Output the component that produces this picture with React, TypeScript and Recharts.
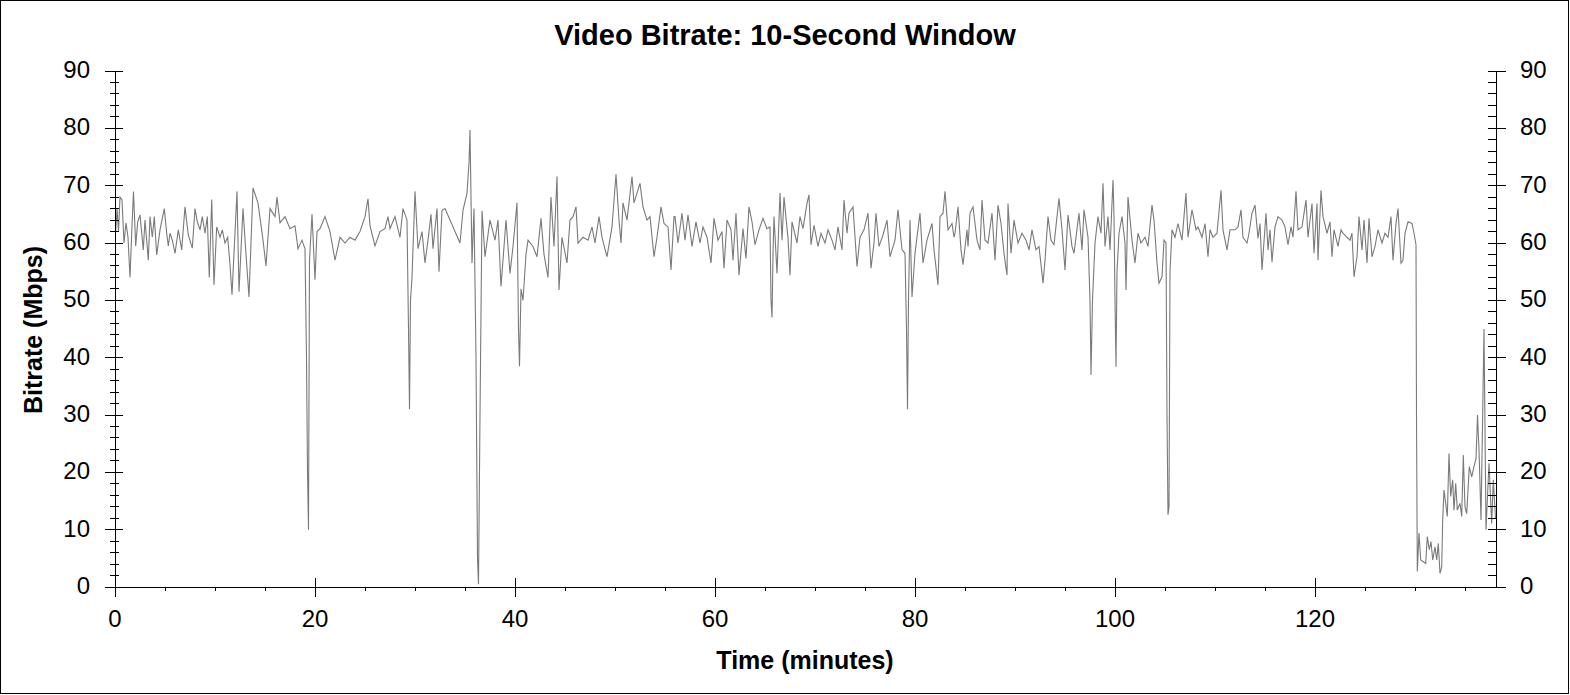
import { LineChart, Line, XAxis, YAxis, Label } from 'recharts';

const FONT = '"Liberation Sans", Arial, Helvetica, sans-serif';

// tick values (minor + major), majors every 20 min / 10 Mbps
const xTicks = [0, 5, 10, 15, 20, 25, 30, 35, 40, 45, 50, 55, 60, 65, 70, 75, 80, 85, 90, 95, 100, 105, 110, 115, 120, 125, 130, 135];
const yTicks = [0, 2, 4, 6, 8, 10, 12, 14, 16, 18, 20, 22, 24, 26, 28, 30, 32, 34, 36, 38, 40, 42, 44, 46, 48, 50, 52, 54, 56, 58, 60, 62, 64, 66, 68, 70, 72, 74, 76, 78, 80, 82, 84, 86, 88, 90];

// [minutes, Mbps]
const seg0to28: [number, number][] = [
  [0, 60], [0.2, 66], [0.35, 62], [0.5, 68], [0.7, 67.5], [0.9, 60], [1.1, 63.5], [1.3, 61], [1.5, 54], [1.7, 63],
  [1.85, 69], [2.07, 59.5], [2.27, 63.7], [2.5, 64.9], [2.83, 58.8], [3, 64], [3.33, 57], [3.5, 64.6], [3.73, 61], [3.93, 64.6],
  [4.17, 57.9], [4.5, 62.3], [4.93, 66], [5.17, 61.7], [5.33, 59.5], [5.5, 61.7], [5.73, 60.5], [6, 58.2], [6.33, 62.3], [6.67, 58.8],
  [7, 66.3], [7.33, 61.4], [7.73, 59.1], [8, 66], [8.23, 63.7], [8.5, 62.3], [8.73, 64.6], [9, 61.7], [9.23, 64.6], [9.43, 54],
  [9.67, 67.6], [9.9, 52.7], [10.17, 62.8], [10.5, 61], [10.73, 62.3], [11, 60], [11.27, 61], [11.5, 56.2], [11.7, 51], [12.2, 69],
  [12.4, 51.5], [12.8, 66], [13.1, 58], [13.4, 50.6], [13.8, 69.6], [14.3, 67], [14.8, 60.5], [15.1, 56], [15.5, 66], [16, 64.6],
  [16.2, 68], [16.5, 63.5], [17, 64.6], [17.5, 62.5], [18, 63], [18.3, 59], [18.7, 60.5], [19, 59], [19.15, 40], [19.25, 20],
  [19.35, 10], [19.45, 57], [19.7, 65], [20, 53.6], [20.2, 62], [20.5, 62.5], [21, 64.6], [21.5, 62], [22, 57], [22.5, 61],
  [23, 60], [23.5, 61], [24, 60.5], [24.5, 62], [25, 64.6], [25.3, 67.7], [25.5, 63], [26, 59.5], [26.5, 62], [27, 62.5],
  [27.3, 64.6], [27.5, 62.5],
];

const seg28to56: [number, number][] = [
  [28, 64.6], [28.5, 61], [28.8, 66], [29.2, 64], [29.35, 45], [29.45, 31], [29.55, 50], [29.7, 54], [30, 69], [30.3, 59],
  [30.7, 62], [31, 56.5], [31.3, 60.5], [31.6, 65], [31.8, 59], [32.2, 66], [32.4, 55], [32.7, 65.7], [33, 66], [33.5, 64],
  [34, 62], [34.5, 60], [34.8, 65.7], [35.2, 68.7], [35.4, 74], [35.5, 79.7], [35.7, 56.5], [35.9, 66], [36.1, 40], [36.25, 5],
  [36.35, 0.5], [36.5, 30], [36.7, 65.6], [37, 57.6], [37.5, 64], [38, 60.5], [38.3, 64], [38.6, 52.4], [39.1, 64], [39.5, 54.7],
  [39.8, 59.4], [40.2, 67], [40.35, 45], [40.45, 38.5], [40.6, 52], [40.8, 50], [41.1, 58], [41.3, 60.5], [41.8, 59.4], [42.2, 57.6],
  [42.6, 64.3], [42.9, 58], [43.3, 54], [43.6, 68], [43.9, 59.4], [44.2, 71.6], [44.4, 51.8], [44.7, 61], [45.2, 56.5], [45.5, 64],
  [45.8, 64.6], [46.1, 66.3], [46.3, 60], [46.8, 61], [47.3, 60.5], [47.7, 62.8], [48, 60], [48.4, 64.6], [48.7, 61], [49.2, 57.6],
  [49.7, 62.8], [50.1, 72], [50.4, 64], [50.6, 60], [50.8, 67], [51.2, 64], [51.7, 71.6], [51.9, 67], [52.2, 68.7], [52.5, 70.4],
  [52.8, 66.3], [53.2, 64], [53.5, 64.6], [53.9, 57.6], [54.2, 61], [54.6, 66.3], [54.9, 63.4], [55.3, 62.8], [55.6, 55.3], [55.9, 64.6],
];

const seg56to84: [number, number][] = [
  [56, 64.6], [56.3, 60], [56.7, 65.2], [57, 60.5], [57.3, 64.9], [57.7, 59.4], [58.1, 63.7], [58.5, 60], [58.8, 62.8], [59.2, 61],
  [59.6, 56.5], [59.9, 64.3], [60.3, 60.5], [60.7, 62], [60.9, 55.6], [61.2, 64], [61.6, 62.3], [61.8, 57], [62.1, 65.2], [62.4, 54.4],
  [62.8, 62.5], [63.1, 57.3], [63.4, 66.3], [63.7, 63.7], [64, 59.7], [64.4, 62.3], [64.8, 64.3], [65.2, 62.5], [65.5, 62.8], [65.6, 50],
  [65.7, 47], [65.8, 58], [65.9, 64.6], [66.2, 54.7], [66.5, 68.7], [66.7, 60.5], [66.9, 68], [67.3, 60.8], [67.5, 54.4], [67.7, 63.7],
  [68.2, 60], [68.5, 64.6], [68.8, 62.5], [69.2, 66.9], [69.4, 68.4], [69.6, 59.7], [69.9, 63.1], [70.3, 59.4], [70.6, 61.7], [71, 60],
  [71.3, 62.3], [71.7, 60.5], [72, 58.8], [72.3, 62.8], [72.7, 58.8], [72.9, 67.5], [73.2, 61.7], [73.4, 65.2], [73.8, 66.3], [74.2, 55.9],
  [74.5, 61], [74.9, 62.3], [75.3, 65.2], [75.6, 55.6], [75.9, 60], [76.1, 65.2], [76.4, 59.4], [76.8, 61.4], [77.2, 64], [77.5, 57.6],
  [78, 60.5], [78.3, 65.8], [78.7, 58.8], [79, 58.2], [79.15, 45], [79.25, 31], [79.35, 50], [79.5, 64], [79.7, 50.6], [80, 58.2],
  [80.5, 65.2], [80.8, 56.5], [81.2, 60.5], [81.7, 63.4], [81.9, 58.8], [82.3, 52.7], [82.5, 64.6], [82.8, 65.2], [83, 69], [83.3, 62.3],
  [83.7, 63.4], [83.9, 61],
];

const seg84to112: [number, number][] = [
  [84, 61.7], [84.3, 66.3], [84.6, 58.8], [84.8, 56.2], [85.2, 62.3], [85.3, 59.4], [85.5, 65.2], [85.8, 66.3], [86.2, 60.5], [86.5, 58.8],
  [86.7, 67.5], [87, 60.5], [87.3, 60], [87.7, 65.2], [88, 57], [88.3, 66.6], [88.6, 63.4], [88.9, 58.2], [89.2, 54.4], [89.3, 66.9],
  [89.6, 58.2], [89.9, 64], [90.3, 60], [90.7, 61.7], [91.1, 60.5], [91.4, 58.8], [91.7, 62.3], [92.1, 58.8], [92.4, 59.4], [92.8, 53],
  [93, 57], [93.3, 64.6], [93.6, 60.5], [93.9, 59.7], [94.2, 64.6], [94.4, 67.8], [94.7, 62.3], [95, 55.3], [95.3, 64.9], [95.7, 59.4],
  [95.9, 58.2], [96.4, 65.2], [96.7, 58.8], [96.9, 65.8], [97.3, 61], [97.5, 50], [97.6, 37], [97.75, 50], [98, 60], [98.3, 64.6],
  [98.6, 61.7], [98.8, 70.4], [99, 59.4], [99.3, 64.6], [99.5, 58.8], [99.8, 71], [99.9, 64.6], [100, 50], [100.1, 38.4], [100.2, 55],
  [100.4, 61.7], [100.7, 64.6], [101, 60], [101.1, 51.8], [101.3, 68], [101.7, 60.5], [102, 56.5], [102.3, 61.7], [102.6, 60], [103, 61],
  [103.3, 59.4], [103.7, 66.6], [103.9, 64], [104.2, 56.5], [104.4, 53], [104.7, 54.1], [104.9, 60.5], [105.1, 60], [105.2, 30], [105.3, 12.6],
  [105.4, 14], [105.5, 55], [105.7, 62.3], [106, 61], [106.3, 63.4], [106.7, 60.5], [107.1, 68.7], [107.3, 61], [107.7, 65.8], [108.1, 62.3],
  [108.3, 62.8], [108.7, 61], [109, 63.4], [109.3, 57.6], [109.5, 62.3], [109.8, 61], [110.2, 61.7], [110.6, 69.2], [110.8, 62.3], [111.2, 58.8],
  [111.5, 62.3], [111.9, 62.3],
];

const seg112toEnd: [number, number][] = [
  [112, 62.3], [112.3, 62.8], [112.6, 65.8], [112.8, 61], [113.2, 60], [113.4, 61.7], [113.7, 65.2], [114, 66.6], [114.3, 60.8], [114.5, 63.4],
  [114.7, 55.3], [115.1, 65.2], [115.3, 58.8], [115.5, 62.3], [115.7, 56.7], [116, 62.8], [116.3, 64.6], [116.7, 64], [117, 62.8], [117.3, 59.7],
  [117.6, 62.8], [117.8, 61], [118.1, 69], [118.3, 62.3], [118.7, 62.8], [119.1, 67.5], [119.3, 61], [119.7, 66.9], [119.9, 58.2], [120.2, 66.9],
  [120.3, 57], [120.6, 69.2], [120.8, 64.6], [121.2, 61.7], [121.5, 63.7], [121.7, 57.6], [121.9, 62.3], [122.3, 59.4], [122.6, 62.3], [122.8, 61.7],
  [123.2, 61], [123.5, 60.5], [123.7, 61.7], [123.9, 54.1], [124.2, 57.6], [124.4, 64.6], [124.7, 58.8], [124.9, 64], [125.2, 56.5], [125.4, 64.3],
  [125.7, 57.6], [126, 59.4], [126.3, 62.3], [126.7, 60], [127, 61.7], [127.3, 61], [127.6, 64.6], [127.8, 57], [128.1, 63.4], [128.3, 66],
  [128.6, 56.5], [128.8, 57], [129, 61.7], [129.3, 63.7], [129.7, 63.4], [129.9, 61.7], [130.1, 59.7], [130.15, 30], [130.23, 2.7], [130.4, 9.4],
  [130.57, 4.7], [130.83, 4.4], [131.07, 4.1], [131.23, 8.8], [131.43, 6.5], [131.6, 7.9], [131.77, 4.7], [132, 7], [132.17, 4.7], [132.33, 7.6],
  [132.5, 2.4], [132.67, 3.5], [132.77, 11.7], [132.9, 16.9], [133.07, 14.6], [133.23, 12.3], [133.4, 23.3], [133.57, 15.8], [133.77, 18.7], [133.9, 13.4],
  [134.07, 18.1], [134.23, 13.4], [134.5, 14.6], [134.67, 12.3], [134.83, 23], [135, 14], [135.17, 12.8], [135.43, 21], [135.67, 19.2], [135.9, 21],
  [136.1, 22.4], [136.25, 30], [136.4, 24], [136.6, 11.7], [136.9, 45], [137.1, 10], [137.4, 21.6], [137.67, 11.1], [137.83, 18.7], [138.05, 12],
];

const bitrate = [...seg0to28, ...seg28to56, ...seg56to84, ...seg84to112, ...seg112toEnd].map(([t, v]) => ({ t, v }));

const tickText = { fontSize: 24, fontFamily: FONT, fill: '#000' };

const BottomTick = ({ x, y, payload }: any) => {
  const major = payload.value % 20 === 0;
  return (
    <g>
      <line x1={x} x2={x} y1={major ? y - 9 : y} y2={major ? y + 10 : y + 4} stroke="#000" shapeRendering="crispEdges" />
      {major && <text x={x} y={y + 40} textAnchor="middle" {...tickText}>{payload.value}</text>}
    </g>
  );
};

const TopTick = ({ x, y, payload }: any) => {
  const major = payload.value % 20 === 0;
  return <line x1={x} x2={x} y1={y} y2={major ? y + 9 : y + 5} stroke="#000" shapeRendering="crispEdges" />;
};

const LeftTick = ({ x, y, payload }: any) => {
  const major = payload.value % 10 === 0;
  return (
    <g>
      <line x1={major ? x - 10 : x - 5} x2={major ? x + 8 : x + 4} y1={y} y2={y} stroke="#000" shapeRendering="crispEdges" />
      {major && <text x={x - 25} y={y + 7} textAnchor="end" {...tickText}>{payload.value}</text>}
    </g>
  );
};

const RightTick = ({ x, y, payload }: any) => {
  const major = payload.value % 10 === 0;
  return (
    <g>
      <line x1={x - 8} x2={major ? x + 10 : x} y1={y} y2={y} stroke="#000" shapeRendering="crispEdges" />
      {major && <text x={x + 24} y={y + 7} textAnchor="start" {...tickText}>{payload.value}</text>}
    </g>
  );
};

const axisLine = { stroke: '#000', shapeRendering: 'crispEdges' };

export default function App() {
  return (
    <div style={{ position: 'absolute', left: 0, top: 0, width: 1570, height: 695, background: '#fff' }}>
      <LineChart width={1570} height={695} data={bitrate} margin={{ top: 71, right: 14, bottom: 78, left: 55 }}>
        <XAxis
          xAxisId="bottom"
          dataKey="t"
          type="number"
          domain={[0, 138.1]}
          allowDataOverflow
          ticks={xTicks}
          interval={0}
          height={30}
          tickSize={0}
          tickMargin={0}
          tickLine={false}
          axisLine={axisLine}
          tick={BottomTick}
        >
          <Label
            content={() => (
              <text x={805} y={669} textAnchor="middle" fontSize={25} fontWeight="bold" fontFamily={FONT} fill="#000">
                Time (minutes)
              </text>
            )}
          />
        </XAxis>
        <XAxis
          xAxisId="top"
          orientation="top"
          dataKey="t"
          type="number"
          domain={[0, 138.1]}
          allowDataOverflow
          ticks={xTicks}
          interval={0}
          height={0}
          tickSize={0}
          tickMargin={0}
          tickLine={false}
          axisLine={axisLine}
          tick={TopTick}
        />
        <YAxis
          yAxisId="left"
          type="number"
          domain={[0, 90]}
          allowDataOverflow
          ticks={yTicks}
          interval={0}
          width={60}
          tickSize={0}
          tickMargin={0}
          tickLine={false}
          axisLine={axisLine}
          tick={LeftTick}
        >
          <Label
            content={() => (
              <text
                x={42}
                y={330}
                transform="rotate(-90 42 330)"
                textAnchor="middle"
                fontSize={25}
                fontWeight="bold"
                fontFamily={FONT}
                fill="#000"
              >
                Bitrate (Mbps)
              </text>
            )}
          />
        </YAxis>
        <YAxis
          yAxisId="right"
          orientation="right"
          type="number"
          domain={[0, 90]}
          allowDataOverflow
          ticks={yTicks}
          interval={0}
          width={60}
          tickSize={0}
          tickMargin={0}
          tickLine={false}
          axisLine={axisLine}
          tick={RightTick}
        >
          <Label
            content={() => (
              <text x={785} y={45} textAnchor="middle" fontSize={29} fontWeight="bold" fontFamily={FONT} fill="#000">
                Video Bitrate: 10-Second Window
              </text>
            )}
          />
        </YAxis>
        <Line
          xAxisId="bottom"
          yAxisId="left"
          type="linear"
          dataKey="v"
          stroke="#7a7a7a"
          strokeWidth={1.1}
          dot={false}
          activeDot={false}
          isAnimationActive={false}
        />
      </LineChart>
      <div
        style={{
          position: 'absolute',
          left: 0,
          top: 0,
          width: 1569,
          height: 694,
          border: '1px solid #000',
          boxSizing: 'border-box',
          pointerEvents: 'none',
        }}
      />
    </div>
  );
}
